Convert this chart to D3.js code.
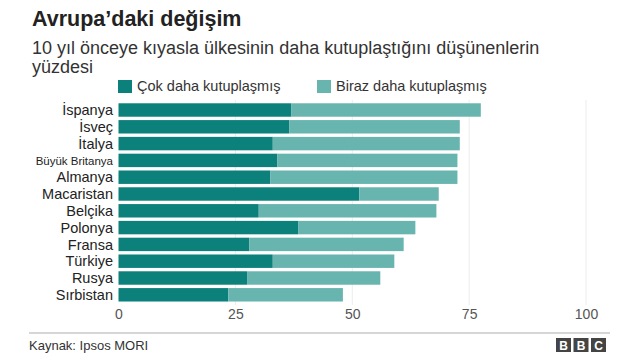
<!DOCTYPE html>
<html><head><meta charset="utf-8">
<script src="https://cdn.jsdelivr.net/npm/d3@7"></script>
<style>
html,body{margin:0;padding:0;background:#fff;}
text{font-family:"Liberation Sans",Arial,Helvetica,sans-serif;}
</style></head>
<body>
<svg id="chart" width="640" height="360"></svg>
<script>
const categories = ["İspanya","İsveç","İtalya","Büyük Britanya","Almanya","Macaristan","Belçika","Polonya","Fransa","Türkiye","Rusya","Sırbistan"];
const cokDaha = [37, 36.5, 33, 34, 32.5, 51.5, 30, 38.5, 28, 33, 27.5, 23.5];
const birazDaha = [40.5, 36.5, 40, 38.5, 40, 17, 38, 25, 33, 26, 28.5, 24.5];
const seriesNames = ["Çok daha kutuplaşmış","Biraz daha kutuplaşmış"];
const tickValues = [0, 25, 50, 75, 100];
const colors = ["#0c817c", "#68b4af"];

const svg = d3.select("#chart");
const x = d3.scaleLinear().domain([0,100]).range([118.5, 586]);
const y = d3.scaleBand().domain(categories).range([101.6, 303.2]).paddingInner(0.2).paddingOuter(0.1);

// Title
svg.append("text").attr("x",32).attr("y",26).attr("font-size",21.5).attr("font-weight","bold").attr("fill","#222").text("Avrupa’daki değişim");
svg.append("text").attr("x",32).attr("y",54).attr("font-size",18).attr("fill","#333").text("10 yıl önceye kıyasla ülkesinin daha kutuplaştığını düşünenlerin");
svg.append("text").attr("x",32).attr("y",73).attr("font-size",18).attr("fill","#333").text("yüzdesi");

// Legend
const leg = [{x:118, tx:137},{x:317, tx:336}];
leg.forEach((l,i)=>{
  svg.append("rect").attr("x",l.x).attr("y",80).attr("width",14).attr("height",13).attr("fill",colors[i]);
  svg.append("text").attr("x",l.tx).attr("y",91).attr("font-size",14.5).attr("fill","#333").text(seriesNames[i]);
});

// Gridlines
svg.append("g").selectAll("line").data(tickValues.slice(1)).join("line")
  .attr("x1",d=>x(d)).attr("x2",d=>x(d)).attr("y1",100).attr("y2",305)
  .attr("stroke","#ececec").attr("stroke-width",1);

// Stacked bars
const rows = categories.map((c,i)=>({c, a:cokDaha[i], b:birazDaha[i]}));
const stack = d3.stack().keys(["a","b"])(rows);
svg.append("g").selectAll("g").data(stack).join("g").attr("fill",(d,i)=>colors[i])
  .selectAll("rect").data(d=>d).join("rect")
  .attr("x",d=>x(d[0])).attr("width",d=>x(d[1])-x(d[0]))
  .attr("y",d=>y(d.data.c)).attr("height",y.bandwidth());

// Country labels
svg.append("g").selectAll("text").data(categories).join("text")
  .attr("x",113).attr("y",d=>y(d)+y.bandwidth()/2)
  .attr("dy","0.36em").attr("text-anchor","end")
  .attr("font-size",d=>d==="Büyük Britanya"?11.5:14.5).attr("fill","#222").text(d=>d);

// X axis
const ax = svg.append("g").attr("transform","translate(0,305)")
  .call(d3.axisBottom(x).tickValues(tickValues).tickSize(0).tickPadding(4));
ax.select(".domain").remove();
ax.selectAll("text").attr("font-size",14).attr("fill","#555").style("font-family","Liberation Sans, Arial, sans-serif");

// Footer
svg.append("line").attr("x1",29).attr("x2",610).attr("y1",333).attr("y2",333).attr("stroke","#c8c8c8").attr("stroke-width",1.5);
svg.append("text").attr("x",29).attr("y",350).attr("font-size",13).attr("fill","#333").text("Kaynak: Ipsos MORI");
["B","B","C"].forEach((ch,i)=>{
  const bx = 556 + i*17.5;
  svg.append("rect").attr("x",bx).attr("y",338).attr("width",15).attr("height",14).attr("fill","#444");
  svg.append("text").attr("x",bx+7.5).attr("y",349.5).attr("text-anchor","middle").attr("font-size",12).attr("font-weight","bold").attr("fill","#fff").text(ch);
});
</script>
</body></html>
